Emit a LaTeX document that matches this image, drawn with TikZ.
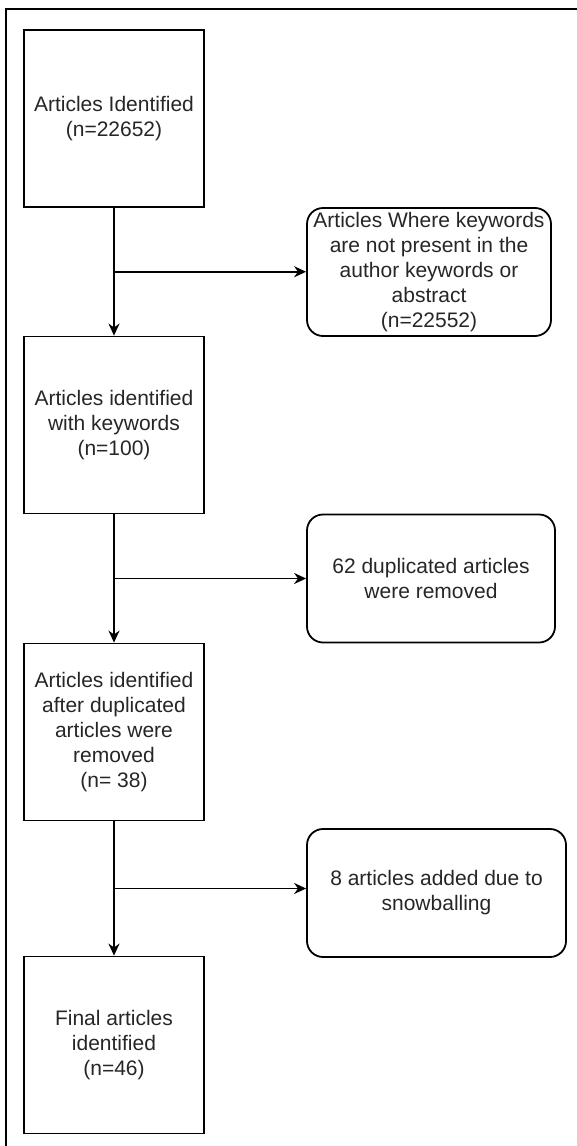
\documentclass[tikz,border=0pt]{standalone}
\usepackage{fontspec}
\setmainfont{Liberation Sans}
\usetikzlibrary{arrows.meta,calc}

\begin{document}
\begin{tikzpicture}[x=1pt,y=-1pt,>={Stealth[length=12pt,width=11pt]},
  stage/.style={draw,line width=1.8pt,minimum width=180pt,minimum height=177pt,
    align=center,inner sep=0pt,font=\fontsize{21}{25}\selectfont,text=black!85},
  excluded/.style={draw,line width=1.8pt,rounded corners=16pt,minimum height=128pt,
    align=center,inner sep=0pt,font=\fontsize{21}{25}\selectfont,text=black!85}]
  \useasboundingbox (0,0) rectangle (577,1146);
  % frame
  \draw[line width=1.3pt] (577,9) -- (6,9) -- (6,1146);
  % main column
  \node[stage] (s1) at (114,118.5) {Articles Identified\\(n=22652)};
  \node[stage] (s2) at (114,425) {Articles identified\\with keywords\\(n=100)};
  \node[stage] (s3) at (114,732) {Articles identified\\after duplicated\\articles were\\removed\\(n= 38)};
  \node[stage] (s4) at (114,1045) {Final articles\\identified\\(n=46)};
  % side boxes
  \node[excluded,minimum width=244pt] (r1) at (429,272) {Articles Where keywords\\are not present in the\\author keywords or\\abstract\\(n=22552)};
  \node[excluded,minimum width=248pt] (r2) at (431,578.5) {62 duplicated articles\\were removed};
  \node[excluded,minimum width=259pt] (r3) at (436.5,893) {8 articles added due to\\snowballing};
  \coordinate (b1) at ($(s1.south)!0.5!(s2.north)$);
  \coordinate (b2) at ($(s2.south)!0.5!(s3.north)$);
  \coordinate (b3) at ($(s3.south)!0.5!(s4.north)$);
  \draw[->,line width=1.8pt] (s1) -- (s2);
  \draw[->,line width=1.8pt] (s2) -- (s3);
  \draw[->,line width=1.8pt] (s3) -- (s4);
  \draw[->,line width=1.8pt] (b1) -- (b1 -| r1.west);
  \draw[->,line width=1.8pt] (b2) -- (b2 -| r2.west);
  \draw[->,line width=1.8pt] (b3) -- (b3 -| r3.west);
\end{tikzpicture}
\end{document}
